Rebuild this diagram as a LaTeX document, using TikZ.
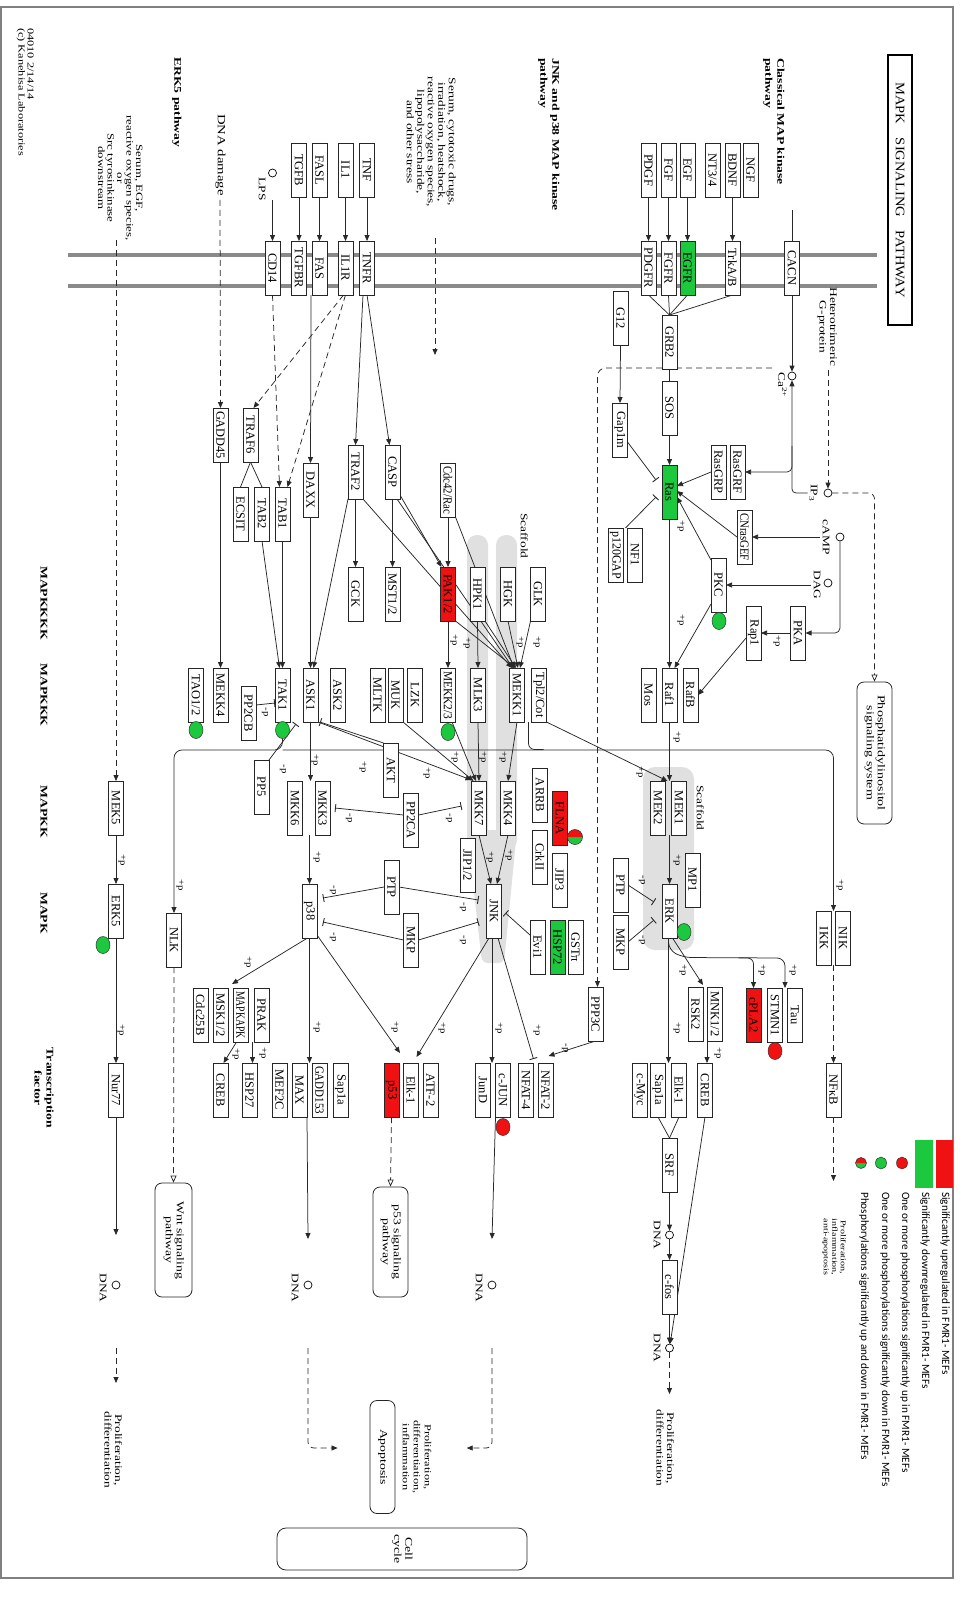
\documentclass[tikz,border=0pt]{standalone}
\usepackage{fontspec}
\setmainfont{Liberation Serif}
\newfontfamily\legfont{Carlito}
\usepackage{graphicx}
\usetikzlibrary{arrows.meta,calc,shapes.geometric}
\pgfdeclarelayer{back}
\pgfdeclarelayer{mid}
\pgfsetlayers{back,mid,main}
\definecolor{kred}{RGB}{240,18,18}
\definecolor{kgreen}{RGB}{28,200,62}
\definecolor{scaf}{RGB}{224,224,224}
\definecolor{memb}{RGB}{138,138,138}
\definecolor{ln}{RGB}{40,40,40}
\newsavebox\gbox
\newcommand\gtxt[1]{\sbox\gbox{#1}\ifdim\wd\gbox>48pt\resizebox{48pt}{\height}{\usebox\gbox}\else\usebox\gbox\fi}
\newcommand\gn[5]{\node[gene,#5] (#1) at (#2,#3) {\gtxt{#4}};}
\newcommand\kst[2][1.34]{\scalebox{#1}[1]{\begin{tabular}{@{}c@{}}#2\end{tabular}}}
\newcommand\kstl[2][1.34]{\scalebox{#1}[1]{\begin{tabular}{@{}l@{}}#2\end{tabular}}}
\newcommand\pp[4]{\node[pl] (#1) at (#2,#3) {\scalebox{1.2}[1]{#4}};}
\newcommand\halfc[3]{%
  \fill[kgreen] (#1,#2) circle[radius=#3];
  \fill[kred] ($(#1,#2)+(-#3,0)$) arc[start angle=180,end angle=360,radius=#3] -- cycle;
  \draw[black!80,line width=0.5pt] (#1,#2) circle[radius=#3];}
\tikzset{
  gene/.style={draw=black!85, line width=0.7pt, fill=white, rotate=-90, minimum width=54pt, minimum height=15pt, inner sep=0pt, outer sep=0pt, font=\fontsize{12.5}{12.5}\selectfont},
  upg/.style={fill=kred},
  dng/.style={fill=kgreen},
  conn/.style={draw=ln, line width=0.75pt},
  arr/.style={conn, -{Triangle[length=6pt,width=5pt]}},
  darr/.style={arr, dash pattern=on 6pt off 4pt},
  oarr/.style={conn, dash pattern=on 6pt off 4pt, -{Triangle[open,length=7pt,width=6pt]}},
  inh/.style={conn, -{Bar[width=8pt,line width=0.9pt]}},
  lbl/.style={rotate=-90, inner sep=0pt, font=\fontsize{10}{10.5}\selectfont},
  blbl/.style={rotate=-90, inner sep=0pt, font=\fontsize{10.2}{12}\selectfont\bfseries},
  pl/.style={rotate=-90, inner sep=0pt, font=\fontsize{9}{9}\selectfont},
  cmp/.style={circle, draw=black, line width=0.7pt, minimum size=8pt, inner sep=0pt, fill=white},
  phg/.style={ellipse, draw=black!80, line width=0.5pt, fill=kgreen, minimum width=14pt, minimum height=17pt, inner sep=0pt},
  phr/.style={phg, fill=kred},
  pw/.style={draw=black!85, line width=0.8pt, rounded corners=7pt, rotate=-90, inner sep=0pt, fill=white, font=\fontsize{10.3}{11}\selectfont},
  legt/.style={rotate=-90, anchor=west, inner sep=0pt, font=\legfont\fontsize{11.2}{11.2}\selectfont},
}
\begin{document}
\begin{tikzpicture}[x=1pt,y=-1pt]
\useasboundingbox (0,0) rectangle (964,1600);

% ---------- background: membrane and scaffolds
\begin{pgfonlayer}{back}
\fill[white] (0,0) rectangle (964,1600);
\draw[memb, line width=4pt] (68,255) -- (877,255) (68,286) -- (877,286);
\fill[scaf, rounded corners=10pt] (467,535) rectangle (488,850);
\fill[scaf, rounded corners=10pt] (496,535) rectangle (517,850);
\fill[scaf, rounded corners=6pt] (467,830) -- (517,830) -- (504,963) -- (482,963) -- cycle;
\fill[scaf, rounded corners=12pt] (643,767) rectangle (694,950);
\end{pgfonlayer}
\draw[black!50, line width=1.2pt] (1,7) rectangle (953,1578);

% ---------- titles and labels
\node[rotate=-90, draw=black, line width=1.8pt, minimum width=270pt, minimum height=24pt, inner sep=0pt, font=\fontsize{13}{13}\selectfont] (title) at (900,190) {\scalebox{1.12}[1]{MAPK\hspace{12pt}SIGNALING\hspace{12pt}PATHWAY}};
\node[blbl, anchor=north west] (classical) at (786,58) {\kstl{Classical MAP kinase\\pathway}};
\node[blbl, anchor=north west] (jnkp) at (561,58) {\kstl{JNK and p38 MAP kinase\\pathway}};
\node[blbl, anchor=north west] (erk5p) at (183,57) {\kstl{ERK5 pathway}};
\node[lbl, font=\fontsize{9.2}{8.5}\selectfont, anchor=north west] (kegg) at (34,28) {\kstl{04010 2/14/14\\(c) Kanehisa Laboratories}};
\node[lbl] (stress) at (430,142) {\kst{Serum, cytotoxic drugs,\\irradiation, heatshock,\\reactive oxygen species,\\lipopolysaccharide,\\and other stress}};
\node[lbl, font=\fontsize{9.6}{9.5}\selectfont] (serum) at (119,178) {\kst{Serum, EGF,\\reactive oxygen species,\\or\\Src tyrosinkinase\\downstream}};
\node[lbl, font=\fontsize{11}{11}\selectfont] (dnad) at (220,155) {\kst{DNA damage}};
\node[lbl] (hetg) at (827,327) {\kst{Heterotrimeric\\G-protein}};
\node[blbl] (rk4) at (43,603) {\kst{MAPKKKK}};
\node[blbl] (rk3) at (43,695) {\kst{MAPKKK}};
\node[blbl] (rk2) at (43,812) {\kst{MAPKK}};
\node[blbl] (rk1) at (43,913) {\kst{MAPK}};
\node[blbl] (rtf) at (43,1088) {\kst{Transcription\\factor}};
\node[lbl] (scf1) at (523,536) {\kst{Scaffold}};
\node[lbl] (scf2) at (699,808) {\kst{Scaffold}};
\node[lbl] (pd1) at (112,1450) {\kst{Proliferation,\\differentiation}};
\node[lbl] (pd2) at (664,1448) {\kst{Proliferation,\\differentiation}};
\node[lbl, font=\fontsize{9.2}{11}\selectfont] (pdi) at (416,1457) {\kst{Proliferation,\\differentiation,\\inflammation}};
\node[lbl, font=\fontsize{7.5}{8.5}\selectfont] (pia) at (834,1247) {\kst{Proliferation,\\inflammation,\\anti-apoptosis}};

% ---------- genes
\gn{TGFB}{299}{170}{TGFB}{}
\gn{FASL}{319.5}{170}{FASL}{}
\gn{IL1}{345.5}{170}{IL1}{}
\gn{TNF}{367}{170}{TNF}{}
\gn{PDGF}{648.5}{170}{PDGF}{}
\gn{FGF}{668.5}{170}{FGF}{}
\gn{EGF}{687.5}{170}{EGF}{}
\gn{NT34}{712.5}{170}{NT3/4}{}
\gn{BDNF}{732.5}{170}{BDNF}{}
\gn{NGF}{750.5}{170}{NGF}{}
\gn{CD14}{272.5}{268}{CD14}{}
\gn{TGFBR}{299}{268}{TGFBR}{}
\gn{FAS}{319.5}{268}{FAS}{}
\gn{IL1R}{345.5}{268}{IL1R}{}
\gn{TNFR}{367}{268}{TNFR}{}
\gn{PDGFR}{648.5}{268}{PDGFR}{}
\gn{FGFR}{668.5}{268}{FGFR}{}
\gn{EGFR}{687.5}{268}{EGFR}{dng}
\gn{TrkAB}{732.5}{268}{TrkA/B}{}
\gn{CACN}{792}{268}{CACN}{}
\gn{G12}{620.5}{318}{G12}{}
\gn{GRB2}{669.5}{342}{GRB2}{}
\gn{SOS}{669.5}{408}{SOS}{}
\gn{Gap1m}{620}{430}{Gap1m}{}
\gn{Ras}{669.5}{492}{Ras}{dng}
\gn{RasGRP}{718.5}{472}{RasGRP}{}
\gn{RasGRF}{737.5}{472}{RasGRF}{}
\gn{CNrasGEF}{744.5}{537}{CNrasGEF}{}
\gn{pGAP}{615.5}{555}{p120GAP}{}
\gn{NF1}{635}{555}{NF1}{}
\gn{PKC}{718.5}{585}{PKC}{}
\gn{Rap1}{753.5}{633}{Rap1}{}
\gn{PKA}{798}{633}{PKA}{}
\gn{Mos}{648.5}{695}{Mos}{}
\gn{Raf1}{669.5}{695}{Raf1}{}
\gn{RafB}{690.5}{695}{RafB}{}
\gn{GADD45}{220.5}{435}{GADD45}{}
\gn{TRAF6}{250.5}{435}{TRAF6}{}
\gn{ECSIT}{240.5}{514}{ECSIT}{}
\gn{TAB2}{262}{514}{TAB2}{}
\gn{TAB1}{282.5}{514}{TAB1}{}
\gn{DAXX}{310.5}{490}{DAXX}{}
\gn{TRAF2}{355.5}{472}{TRAF2}{}
\gn{CASP}{392.5}{472}{CASP}{}
\gn{Cdc42}{448}{490}{Cdc42/Rac}{}
\gn{GCK}{355.5}{594}{GCK}{}
\gn{MST12}{392.5}{594}{MST1/2}{}
\gn{PAK12}{448}{594}{PAK1/2}{upg}
\gn{HPK1}{477.5}{594}{HPK1}{}
\gn{HGK}{508}{594}{HGK}{}
\gn{GLK}{538}{594}{GLK}{}
\gn{TAO12}{196}{695}{TAO1/2}{}
\gn{MEKK4}{220.5}{695}{MEKK4}{}
\gn{TAK1}{282.5}{695}{TAK1}{}
\gn{ASK1}{310.5}{695}{ASK1}{}
\gn{ASK2}{337.5}{695}{ASK2}{}
\gn{MLTK}{377.5}{695}{MLTK}{}
\gn{MUK}{395.5}{695}{MUK}{}
\gn{LZK}{415}{695}{LZK}{}
\gn{MEKK23}{448}{695}{MEKK2/3}{}
\gn{MLK3}{478}{695}{MLK3}{}
\gn{MEKK1}{517}{695}{MEKK1}{}
\gn{Tpl2}{539}{695}{Tpl2/Cot}{}
\gn{PP2CB}{248.5}{713}{PP2CB}{}
\gn{PP5}{261.5}{787}{PP5}{}
\gn{AKT}{391}{770}{AKT}{}
\gn{MEK5}{116}{808}{MEK5}{}
\gn{MKK6}{295}{808}{MKK6}{}
\gn{MKK3}{322.5}{808}{MKK3}{}
\gn{PP2CA}{411}{820}{PP2CA}{}
\gn{MKK7}{479}{808}{MKK7}{}
\gn{MKK4}{508}{808}{MKK4}{}
\gn{ARRB}{540}{795}{ARRB}{}
\gn{FLNA}{560}{818}{FLNA}{upg}
\gn{MEK2}{658}{808}{MEK2}{}
\gn{MEK1}{679}{808}{MEK1}{}
\gn{ERK5}{116}{911}{ERK5}{}
\gn{NLK}{174}{940}{NLK}{}
\gn{p38}{309.5}{911}{p38}{}
\gn{PTP1}{391.5}{887}{PTP}{}
\gn{MKP1}{411}{940}{MKP}{}
\gn{JIP12}{467.5}{865}{JIP1/2}{}
\gn{JNK}{494}{911}{JNK}{}
\gn{CrkII}{540}{857}{CrkII}{}
\gn{JIP3}{559.5}{880}{JIP3}{}
\gn{Evi1}{537.5}{947}{Evi1}{}
\gn{HSP72}{557.5}{947}{HSP72}{dng}
\gn{GSTpi}{575.5}{947}{GSTπ}{}
\gn{PTP2}{620.5}{885}{PTP}{}
\gn{MKP2}{620.5}{942}{MKP}{}
\gn{ERK}{669.5}{911}{ERK}{}
\gn{MP1}{692.5}{880}{MP1}{}
\gn{IKK}{824}{938}{IKK}{}
\gn{NIK}{843}{938}{NIK}{}
\gn{Cdc25B}{200.5}{1015}{Cdc25B}{}
\gn{MSK12}{220.5}{1015}{MSK1/2}{}
\gn{MAPKAPK}{240.5}{1015}{MAPKAPK}{}
\gn{PRAK}{261.5}{1015}{PRAK}{}
\gn{PPP3C}{595.5}{1014}{PPP3C}{}
\gn{RSK2}{695.5}{1014}{RSK2}{}
\gn{MNK12}{715}{1014}{MNK1/2}{}
\gn{cPLA2}{753.5}{1015}{cPLA2}{upg}
\gn{STMN1}{775}{1015}{STMN1}{}
\gn{Tau}{795}{1015}{Tau}{}
\gn{Nur77}{116}{1090}{Nur77}{}
\gn{CREB1}{220.5}{1090}{CREB}{}
\gn{HSP27}{249.5}{1090}{HSP27}{}
\gn{MEF2C}{279.5}{1090}{MEF2C}{}
\gn{MAX}{299.5}{1090}{MAX}{}
\gn{GADD153}{319.5}{1090}{GADD153}{}
\gn{Sapa1}{340.5}{1090}{Sap1a}{}
\gn{p53}{391.5}{1090}{p53}{upg}
\gn{Elka}{411}{1090}{Elk-1}{}
\gn{ATF2}{430.5}{1090}{ATF-2}{}
\gn{JunD}{483}{1090}{JunD}{}
\gn{cJUN}{503}{1090}{c-JUN}{}
\gn{NFAT4}{526}{1090}{NFAT-4}{}
\gn{NFAT2}{545.5}{1090}{NFAT-2}{}
\gn{cMyc}{639.5}{1090}{c-Myc}{}
\gn{Sapb}{658}{1090}{Sap1a}{}
\gn{Elkb}{679}{1090}{Elk-1}{}
\gn{CREB2}{705}{1090}{CREB}{}
\gn{NFkB}{833.5}{1090}{NFκB}{}
\gn{SRF}{669.5}{1165}{SRF}{}
\gn{cfos}{669.5}{1287}{c-fos}{}

% ---------- pathway boxes
\node[pw, minimum width=142pt, minimum height=35pt, font=\fontsize{10.5}{11}\selectfont] (PI) at (874.5,753) {\kst{Phosphatidylinositol\\signaling system}};
\node[pw, minimum width=114pt, minimum height=37pt] (Wnt) at (173.5,1240) {\kst{Wnt signaling\\pathway}};
\node[pw, minimum width=110pt, minimum height=35pt] (p53b) at (390.5,1242) {\kst{p53 signaling\\pathway}};
\node[pw, minimum width=113pt, minimum height=25pt] (Apop) at (382.5,1457) {\kst{Apoptosis}};
\node[pw, minimum width=42pt, minimum height=250pt, rounded corners=9pt] (cellc) at (402,1549) {\kst{Cell\\cycle}};

% ---------- compounds
\node[cmp] (LPS) at (272.5,173) {};
\node[lbl] (LPSl) at (261,189) {\kst{LPS}};
\node[cmp] (Ca) at (792,376) {};
\node[lbl] (Cal) at (781,385) {\kst{Ca\textsuperscript{2+}}};
\node[cmp] (IP3) at (828,493) {};
\node[lbl] (IP3l) at (813,493) {\kst{IP\textsubscript{3}}};
\node[cmp] (cAMP) at (840,537) {};
\node[lbl] (cAMPl) at (825,537) {\kst{cAMP}};
\node[cmp] (DAG) at (828,583) {};
\node[lbl] (DAGl) at (816,585) {\kst{DAG}};
\node[cmp] (DNA1) at (669.5,1235) {};
\node[lbl] (DNA1l) at (656,1235) {\kst{DNA}};
\node[cmp] (DNA2) at (669.5,1348) {};
\node[lbl] (DNA2l) at (656,1348) {\kst{DNA}};
\node[cmp] (DNAe5) at (116,1285) {};
\node[lbl] (DNAe5l) at (102,1288) {\kst{DNA}};
\node[cmp] (DNAp38) at (308,1285) {};
\node[lbl] (DNAp38l) at (294,1288) {\kst{DNA}};
\node[cmp] (DNAjnk) at (492,1285) {};
\node[lbl] (DNAjnkl) at (478,1288) {\kst{DNA}};

% ---------- phosphorylation marks
\node[phg] (c1) at (196,730) {};
\node[phg] (c2) at (282.5,730) {};
\node[phg] (c3) at (448,732) {};
\node[phg] (c4) at (719,621) {};
\node[phg] (c5) at (103,945) {};
\node[phg] (c6) at (684,932) {};
\node[phr] (c7) at (503,1127) {};
\node[phr] (c8) at (775,1051) {};
\halfc{575}{837}{7.5}

% ---------- coordinates for free ends
\coordinate (cacnin) at (792,210);
\coordinate (srm) at (116,240);
\coordinate (strs) at (435,238);
\coordinate (hy) at (0,750);
\coordinate (nikin) at ($(NIK.south west)+(-2,0)$);
\coordinate (mekin) at (Raf1.east |- MEK1.west);
\coordinate (dc) at (PPP3C.west |- Ca);

% ---------- connectors
\begin{pgfonlayer}{mid}
\draw[arr] (TGFB.east) -- (TGFBR.west);
\draw[arr] (FASL.east) -- (FAS.west);
\draw[arr] (IL1.east) -- (IL1R.west);
\draw[arr] (TNF.east) -- (TNFR.west);
\draw[arr] (PDGF.east) -- (PDGFR.west);
\draw[arr] (FGF.east) -- (FGFR.west);
\draw[arr] (EGF.east) -- (EGFR.west);
\draw[arr] (BDNF.east) -- (TrkAB.west);
\draw[arr] ($(LPS)+(0,27)$) -- (CD14.west);
\draw[conn] (cacnin) -- (CACN.west);
\draw[arr] (CACN.east) -- (Ca);
\draw[conn] (PDGFR.east) -- (GRB2.west);
\draw[conn] (FGFR.east) -- (GRB2.west);
\draw[conn] (EGFR.east) -- (GRB2.west);
\draw[conn] (TrkAB.east) -- (GRB2.west);
\draw[conn] (GRB2.east) -- (SOS.west);
\draw[arr] (SOS.east) -- (Ras.west);
\draw[arr] (G12.east) -- (Gap1m.west);
\draw[inh] ($(Gap1m.north east)+(0,-15)$) -- ($(Ras.south)+(-6,-12)$);
\draw[inh] ($(NF1.south west)+(-2,0)$) -- ($(Ras.south)+(-6,5)$);
\draw[arr] (Ras.east) -- (Raf1.west);
\draw[arr] ($(PKC.south east)+(0,-8)$) -- ($(Raf1.west)+(5,0)$);
\draw[arr] ($(PKC.south west)+(0,2)$) -- ($(Ras.north)+(0,5)$);
\draw[arr] (CNrasGEF.south) -- ($(Ras.north)+(0,-1)$);
\draw[arr] (RasGRP.south) -- ($(Ras.north)+(0,-6)$);
\draw[arr] (cAMPl.south) -- (CNrasGEF.north);
\draw[arr] (DAGl.south) -- (PKC.north);
\draw[arr, rounded corners=5pt] (cAMP) -- (cAMP |- PKA) -- (PKA.north);
\draw[arr] (PKA.south) -- (Rap1.north);
\draw[arr] ($(Rap1.south)+(0,5)$) -- (RafB.north);
\draw[darr] ($(hetg.east)+(1,3)$) -- (IP3);
\draw[oarr, rounded corners=6pt] (IP3) -- (IP3 -| PI.west) -- (PI.west);
\draw[arr, rounded corners=4pt] (IP3l.south) -- (IP3l.south -| Ca) -- (Ca);
\draw[arr, rounded corners=5pt] ($(Ca)+(0,70)$) -- ($(Ca)+(0,96)$) -- (RasGRF.north);
\draw[darr, rounded corners=8pt] ($(Ca)+(-20,-8)$) -- ($(dc)+(2,-8)$) -- ($(PPP3C.west)+(2,0)$);
\draw[arr] (Raf1.east) -- (mekin);
\draw[arr] (Tpl2.north east) -- ($(mekin)+(-2,0)$);
\draw[arr] (mekin |- MEK1.east) -- (ERK.west);
\draw[inh] (PTP2.north) -- ($(ERK.south)+(-8,-9)$);
\draw[inh] (MKP2.north) -- ($(ERK.south)+(-8,9)$);
\draw[arr] ($(ERK.east)+(3,0)$) -- ($(RSK2.north west)+(0,-2)$);
\draw[arr, rounded corners=8pt] ($(ERK.east)+(-1,0)$) -- ($(ERK.east)+(-1,12)$) -- ($(ERK.east)+(14,19.5)$) -- ($(STMN1.north west)+(2.5,-30)$) -- ($(STMN1.north west)+(2.5,0)$);
\draw[arr, rounded corners=6pt] ($(cPLA2.west)+(-15,-30)$) -- ($(cPLA2.west)+(0,-30)$) -- (cPLA2.west);
\draw[arr] ($(ERK.east)+(-1,0)$) -- ($(ERK.east)+(-1,125)$);
\draw[arr] ($(MNK12.east)+(-8,0)$) -- ($(CREB2.west)+(2,0)$);
\draw[conn] (Sapb.east) -- (SRF.west);
\draw[conn] (Elkb.east) -- (SRF.west);
\draw[arr] (SRF.east) -- (DNA1);
\draw[arr] (DNA1) -- (cfos.west);
\draw[arr] (cfos.east) -- (DNA2);
\draw[arr] (CREB2.east) -- (DNA2);
\draw[darr] (DNA2) -- ($(DNA2)+(0,46)$);
\draw[arr, rounded corners=8pt] (c2.south) -- (c2.south |- hy) -- (NLK.west |- hy) -- (NLK.west);
\draw[arr, rounded corners=8pt] (c2.south |- hy) -- (nikin |- hy) -- (nikin);
\draw[conn, rounded corners=6pt] ($(Tpl2.south east)+(-3,0)$) -- ($(Tpl2.south east)+(-3,27.5)$) -- ($(Tpl2.south east)+(12,27.5)$);
\draw[darr] ($(NIK.south east)+(-2,0)$) -- (NFkB.west);
\draw[darr] (NFkB.east) -- ($(NFkB.east)+(0,64)$);
\draw[darr] (srm) -- (MEK5.west);
\draw[arr] (MEK5.east) -- (ERK5.west);
\draw[arr] (ERK5.east) -- (Nur77.west);
\draw[arr] (Nur77.east) -- ($(DNAe5)+(0,-50)$);
\draw[darr] ($(DNAe5)+(0,63)$) -- ($(DNAe5)+(0,98)$);
\draw[darr] ($(dnad.east)+(0,4)$) -- (GADD45.west);
\draw[darr] (strs) -- ($(strs)+(0,117)$);
\draw[arr] ($(TNFR.east)+(-4,0)$) -- (TRAF2.west);
\draw[arr] (TNFR.east) -- ($(CASP.west)+(-3,0)$);
\draw[darr] ($(IL1R.east)+(-2,0)$) -- ($(TRAF6.west)+(3,0)$);
\draw[darr] (IL1R.east) -- ($(TAB1.west)+(5,0)$);
\draw[darr] (CD14.east) -- ($(TAB1.west)+(-3,0)$);
\draw[arr] ($(FAS.east)+(-8.5,0)$) -- (DAXX.west);
\draw[conn] (TRAF6.east) -- (ECSIT.west);
\draw[conn] (TRAF6.east) -- (TAB2.west);
\draw[arr] (TAB1.east) -- (TAK1.west);
\draw[arr] (TAB2.east) -- ($(TAK1.west)+(-3,0)$);
\draw[arr] (DAXX.east) -- (ASK1.west);
\draw[arr] (TRAF2.south east) -- ($(ASK1.west)+(3,0)$);
\draw[arr] (GADD45.east) -- (MEKK4.west);
\draw[arr] (TRAF2.east) -- (GCK.west);
\draw[arr] (CASP.east) -- (MST12.west);
\draw[arr] (Cdc42.east) -- (PAK12.west);
\draw[arr] ($(CASP.north east)+(0,-4)$) -- ($(PAK12.south west)+(1,0)$);
\draw[arr] ($(CASP.north east)+(-3,0)$) -- ($(MEKK1.west)+(-4,0)$);
\draw[arr] (TRAF2.north east) -- ($(MEKK1.west)+(-5,0)$);
\draw[arr] (Cdc42.north east) -- ($(MEKK1.west)+(-3,0)$);
\draw[arr] (PAK12.north east) -- ($(MEKK1.west)+(-2,0)$);
\draw[arr] (HPK1.north east) -- ($(MEKK1.west)+(-1,0)$);
\draw[arr] (HGK.east) -- ($(MEKK1.west)+(1,0)$);
\draw[arr] (GLK.south east) -- ($(MEKK1.west)+(3,0)$);
\draw[arr] (PAK12.east) -- (MEKK23.west);
\draw[arr] (HPK1.east) -- (MLK3.west);
\draw[inh] ($(PP2CB.north)+(0,-8)$) -- ($(TAK1.south)+(0,8)$);
\draw[inh] (PP5.north west) -- ($(TAK1.north east)+(6,2)$);
\draw[inh] (AKT.south west) -- ($(ASK1.north east)+(2,0)$);
\draw[arr] (ASK1.east) -- (ASK1.east |- MKK3.west);
\draw[arr] (p38.west |- MKK3.east) -- (p38.west);
\draw[arr] (ASK1.north east) -- ($(MKK7.south west)+(0,-1)$);
\draw[arr] (MUK.north east) -- ($(MKK7.south west)+(2,0)$);
\draw[arr] ($(MEKK23.east)+(4,0)$) -- ($(MKK7.west)+(-3,0)$);
\draw[arr] (MLK3.east) -- (MKK7.west);
\draw[arr] (MEKK1.east) -- (MKK4.west);
\draw[inh] ($(PP2CA.south)+(0,-5)$) -- ($(MKK3.north)+(5,0)$);
\draw[inh] ($(PP2CA.north)+(0,-5)$) -- ($(MKK7.south)+(-10,-2)$);
\draw[inh] (PTP1.south) -- ($(p38.north)+(6,-13)$);
\draw[inh] (MKP1.south) -- ($(p38.north)+(6,11)$);
\draw[inh] (PTP1.north) -- ($(JNK.south)+(-8,-11)$);
\draw[inh] (MKP1.north) -- ($(JNK.south)+(-8,11)$);
\draw[arr] (MKK7.east) -- ($(JNK.west)+(-3,0)$);
\draw[arr] (MKK4.east) -- ($(JNK.west)+(3,0)$);
\draw[inh] ($(Evi1.south)+(0,-12)$) -- ($(JNK.north)+(4,2)$);
\draw[arr] ($(JNK.east)+(-2,0)$) -- ($(JNK.east)+(-2,125)$);
\draw[arr] ($(JNK.east)+(-5,0)$) -- ($(Elka.north west)+(-2,-6)$);
\draw[inh] ($(JNK.east)+(4,0)$) -- ($(NFAT4.north west)+(0,-4)$);
\draw[arr] (PPP3C.east) -- ($(NFAT2.west)+(3,-7)$);
\draw[arr] ($(p38.north east)+(0,-3)$) -- ($(p53.north west)+(1,-10)$);
\draw[arr] ($(p38.east)+(-2,0)$) -- ($(MAPKAPK.south west)+(-1,-4)$);
\draw[arr] (p38.east) -- (p38.east |- MAX.west);
\draw[arr] ($(MAPKAPK.east)+(-4,0)$) -- ($(CREB1.west)+(3,0)$);
\draw[arr] ($(PRAK.east)+(-9,0)$) -- ($(HSP27.west)+(3,0)$);
\draw[arr] (MAX.north east) -- ($(DNAp38)+(0,-46)$);
\draw[arr] (cJUN.south east) -- ($(DNAjnk)+(0,-46)$);
\draw[darr, rounded corners=6pt] ($(DNAp38)+(0,63)$) -- ($(DNAp38)+(0,163)$) -- ($(Apop.south)+(-32,-9)$);
\draw[darr, rounded corners=6pt] ($(DNAjnk)+(0,63)$) -- ($(DNAjnk)+(0,163)$) -- ($(pdi.north)+(34,-9)$);
\draw[oarr] (NLK.east) -- (Wnt.west);
\draw[oarr] (p53.east) -- (p53b.west);
\end{pgfonlayer}

% ---------- +p / -p labels
\pp{q1}{681}{526}{+p}
\pp{q2}{681}{620}{+p}
\pp{q3}{777}{641}{+p}
\pp{q4}{677}{737}{+p}
\pp{q5}{640}{772}{+p}
\pp{q6}{677}{860}{+p}
\pp{q7}{642}{880}{-p}
\pp{q8}{642}{940}{-p}
\pp{q9}{683}{970}{+p}
\pp{q10}{762}{970}{+p}
\pp{q11}{793}{970}{+p}
\pp{q12}{677}{1028}{+p}
\pp{q13}{718}{1053}{+p}
\pp{q14}{840}{885}{+p}
\pp{q15}{180}{885}{+p}
\pp{q16}{122}{860}{+p}
\pp{q17}{121}{1030}{+p}
\pp{q18}{315}{760}{+p}
\pp{q19}{317}{857}{+p}
\pp{q20}{248}{962}{+p}
\pp{q21}{317}{1027}{+p}
\pp{q22}{395}{1027}{+p}
\pp{q23}{236}{1054}{+p}
\pp{q24}{263}{1053}{+p}
\pp{q25}{349}{818}{-p}
\pp{q26}{449}{818}{-p}
\pp{q27}{333}{890}{-p}
\pp{q28}{333}{937}{-p}
\pp{q29}{463}{907}{-p}
\pp{q30}{463}{940}{-p}
\pp{q31}{490}{857}{+p}
\pp{q32}{509}{855}{+p}
\pp{q33}{499}{1028}{+p}
\pp{q34}{442}{1028}{+p}
\pp{q35}{537}{1030}{+p}
\pp{q36}{565}{1048}{-p}
\pp{q37}{454}{640}{+p}
\pp{q38}{467}{643}{+p}
\pp{q39}{520}{642}{+p}
\pp{q40}{537}{642}{+p}
\pp{q41}{363}{767}{+p}
\pp{q42}{427}{773}{+p}
\pp{q43}{455}{757}{+p}
\pp{q44}{483}{757}{+p}
\pp{q45}{503}{757}{+p}
\pp{q46}{265}{712}{-p}
\pp{q47}{283}{769}{-p}

% ---------- legend
\node[fill=kred, minimum width=17pt, minimum height=48pt, inner sep=0pt] (lgR) at (944.5,1164) {};
\node[fill=kgreen, minimum width=18pt, minimum height=48pt, inner sep=0pt] (lgG) at (924,1164) {};
\node[phr, minimum width=11pt, minimum height=12pt] (lgr) at (902,1163) {};
\node[phg, minimum width=11pt, minimum height=12pt] (lgg) at (881,1163) {};
\halfc{861}{1163}{5.5}
\node[legt] (lt1) at (945,1192) {Significantly upregulated in FMR1- MEFs};
\node[legt] (lt2) at (925,1192) {Significantly downregulated in FMR1- MEFs};
\node[legt] (lt3) at (905,1192) {One or more phosphorylations significantly up in FMR1- MEFs};
\node[legt] (lt4) at (885,1192) {One or more phosphorylations significantly down in FMR1- MEFs};
\node[legt] (lt5) at (864,1192) {Phosphorylations significantly up and down in FMR1- MEFs};
\end{tikzpicture}
\end{document}
